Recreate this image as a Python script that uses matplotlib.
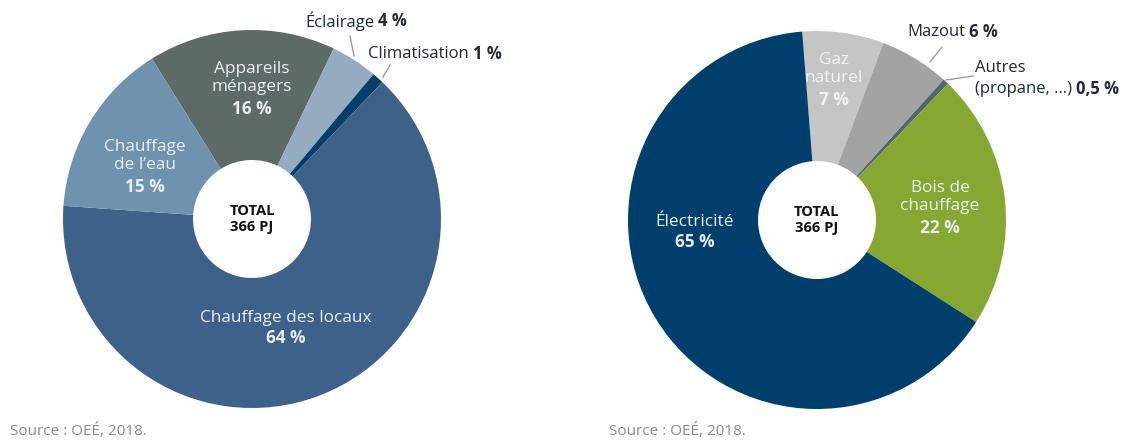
import matplotlib.pyplot as plt

plt.rcParams['font.family'] = ['Open Sans', 'DejaVu Sans']

# Consommation par usage (gauche) et par source d'énergie (droite), en %
usages = ["Appareils ménagers", "Éclairage", "Climatisation",
          "Chauffage des locaux", "Chauffage de l'eau"]
usages_pct = [16, 4, 1, 64, 15]
usages_colors = ["#5e6a66", "#94abc0", "#033f69", "#3e6189", "#6f93ae"]

sources = ["Gaz naturel", "Mazout", "Autres", "Bois de chauffage", "Électricité"]
sources_pct = [7, 6, 0.5, 22, 65]
sources_colors = ["#c4c6c5", "#a1a4a3", "#55666a", "#86a832", "#003f6b"]

total_label = "TOTAL\n366 PJ"
source_note = "Source : OEÉ, 2018."

W, H = 1126, 440
fig = plt.figure(figsize=(W / 100, H / 100), dpi=100)
ax = fig.add_axes([0, 0, 1, 1])

R_OUT = 189
R_IN = 59
LIGHT = "#e9eef3"
DARK = "#1f2a33"


def py(y):
    # pixel row (from top) -> data y
    return H - y


def donut(cx, cy, values, colors, start):
    ax.pie(values, colors=colors, startangle=start, counterclock=False,
           center=(cx, py(cy)), radius=R_OUT, frame=True,
           wedgeprops=dict(width=R_OUT - R_IN, linewidth=0))
    ax.text(cx, py(cy), total_label, ha='center', va='center',
            fontsize=10.6, fontweight='bold', color='#111111', linespacing=1.1)


def inner_label(x, y, name, pct, color=LIGHT):
    # name lines above, bold percentage below
    n = name.count("\n") + 1
    step = 20.5
    top = y - step * n / 2
    ax.text(x, py(top + step * (n - 1) / 2), name, ha='center', va='center',
            fontsize=12.4, color=color, linespacing=1.2)
    ax.text(x, py(top + step * n), pct, ha='center', va='center',
            fontsize=12.4, fontweight='bold', color=color)


def outer_label(x, y, name, pct):
    # "name" in regular weight followed by the bold value
    t = ax.text(x, py(y), name, ha='left', va='center', fontsize=12,
                color=DARK)
    fig.canvas.draw()
    bb = t.get_window_extent()
    ax.text(bb.x1 + 4, py(y), pct, ha='left', va='center', fontsize=12,
            fontweight='bold', color=DARK)


def leader(x0, y0, x1, y1):
    ax.plot([x0, x1], [py(y0), py(y1)], color='#9d9d9d', lw=1)


def fix_axes():
    ax.set_xlim(0, W)
    ax.set_ylim(0, H)
    ax.set_aspect('equal')
    ax.axis('off')


# left donut
donut(252, 219, usages_pct, usages_colors, 122)
fix_axes()
inner_label(252, 88, "Appareils\nménagers", "16 %")
inner_label(145, 166, "Chauffage\nde l\u2019eau", "15 %")
inner_label(286, 328, "Chauffage des locaux", "64 %")
outer_label(305, 21, "Éclairage", "4 %")
leader(350, 36, 354, 56)
outer_label(368, 54, "Climatisation", "1 %")
leader(390, 65, 383, 77)

# right donut
donut(817, 220, sources_pct, sources_colors, 94.5)
fix_axes()
inner_label(834, 79, "Gaz\nnaturel", "7 %", color="#f2f2f2")
inner_label(695, 232, "Électricité", "65 %")
inner_label(940, 207, "Bois de\nchauffage", "22 %")
outer_label(907, 32, "Mazout", "6 %")
leader(942, 47, 930, 62)
ax.text(975, py(68), "Autres", ha='left', va='center', fontsize=12,
        color=DARK)
outer_label(975, 89, "(propane, \u2026)", "0,5 %")
leader(973, 76, 946, 80)

# sources
ax.text(10, py(431), source_note, ha='left', va='center', fontsize=11,
        color='#8a8a8a')
ax.text(609, py(431), source_note, ha='left', va='center', fontsize=11,
        color='#8a8a8a')

fix_axes()
fig.savefig("out.png", dpi=100)
